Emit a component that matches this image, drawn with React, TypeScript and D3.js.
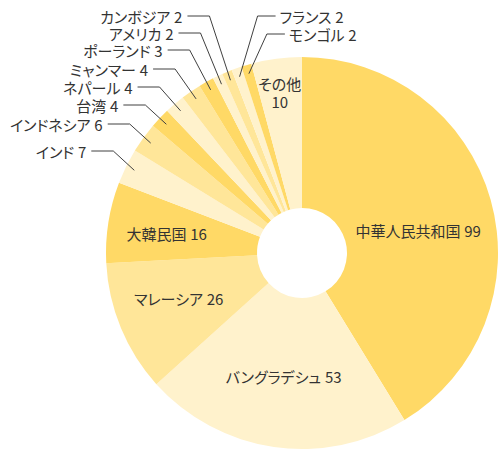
import * as d3 from "d3";

const countries = [
  "中華人民共和国",
  "バングラデシュ",
  "マレーシア",
  "大韓民国",
  "インド",
  "インドネシア",
  "台湾",
  "ネパール",
  "ミャンマー",
  "ポーランド",
  "アメリカ",
  "カンボジア",
  "フランス",
  "モンゴル",
  "その他",
];
const counts = [99, 53, 26, 16, 7, 6, 4, 4, 4, 3, 2, 2, 2, 2, 10];

// slice fill, in slice order
const sliceColors = [
  "#FFD966", "#FFF2CC", "#FFE699", "#FFD966", "#FFF2CC",
  "#FFE699", "#FFD966", "#FFF2CC", "#FFE699", "#FFD966",
  "#FFF2CC", "#FFE699", "#FFF2CC", "#FFD966", "#FFF2CC",
];

// labels drawn inside slices: radius of anchor and nudge
const insideLabels: Record<string, { r: number; dx: number; dy: number }> = {
  中華人民共和国: { r: 128, dx: -7, dy: 12 },
  バングラデシュ: { r: 128, dx: 0, dy: -3 },
  マレーシア: { r: 128, dx: -5, dy: -3 },
  大韓民国: { r: 128, dx: -9, dy: 1 },
  その他: { r: 163, dx: -1, dy: 0 },
};

// labels with leader lines: label row y and side
const outsideLabels: Record<string, { y: number; side: "left" | "right" }> = {
  インド: { y: 151, side: "left" },
  インドネシア: { y: 124, side: "left" },
  台湾: { y: 105, side: "left" },
  ネパール: { y: 87, side: "left" },
  ミャンマー: { y: 69, side: "left" },
  ポーランド: { y: 50, side: "left" },
  アメリカ: { y: 33, side: "left" },
  カンボジア: { y: 16, side: "left" },
  フランス: { y: 16, side: "right" },
  モンゴル: { y: 34, side: "right" },
};

const width = 500;
const height = 450;
const cx = 302;
const cy = 253;
const outerR = 196;
const innerR = 45;
const font = "'Noto Sans CJK JP', 'Noto Sans', sans-serif";
const textColor = "#333333";
const textStyle = { fontFeatureSettings: "'palt' 1" };

type Row = { name: string; value: number; color: string };

export default function App() {
  const data: Row[] = countries.map((c, i) => ({ name: c, value: counts[i], color: sliceColors[i] }));

  const pie = d3
    .pie<Row>()
    .value((d) => d.value)
    .sort(null)
    .startAngle(0)
    .endAngle(2 * Math.PI);
  const arcs = pie(data);

  const arc = d3.arc<d3.PieArcDatum<Row>>().innerRadius(innerR).outerRadius(outerR);

  const pointAt = (angle: number, r: number) => [r * Math.sin(angle), -r * Math.cos(angle)];
  const labelText = (d: Row) => `${d.name}\u2005${d.value}`;

  return (
    <svg
      width={width}
      height={height}
      style={{ position: "absolute", left: 0, top: 0, background: "#fff" }}
    >
      <g transform={`translate(${cx},${cy})`}>
        {arcs.map((a) => (
          <path key={a.data.name} d={arc(a) || ""} fill={a.data.color} stroke="none" />
        ))}
      </g>

      <g
        transform={`translate(${cx},${cy})`}
        fontFamily={font}
        fontSize={15}
        fill={textColor}
        style={textStyle}
      >
        {arcs.map((a) => {
          const lay = insideLabels[a.data.name];
          if (!lay) return null;
          const mid = (a.startAngle + a.endAngle) / 2;
          const [x, y] = pointAt(mid, lay.r);
          if (a.data.name === "その他") {
            return (
              <g key={a.data.name}>
                <text x={x + lay.dx} y={y + lay.dy - 8} textAnchor="middle" dominantBaseline="central">
                  {a.data.name}
                </text>
                <text x={x + lay.dx} y={y + lay.dy + 10} textAnchor="middle" dominantBaseline="central">
                  {a.data.value}
                </text>
              </g>
            );
          }
          return (
            <text
              key={a.data.name}
              x={x + lay.dx}
              y={y + lay.dy}
              textAnchor="middle"
              dominantBaseline="central"
            >
              {labelText(a.data)}
            </text>
          );
        })}
      </g>

      <g fontFamily={font} fontSize={15} fill={textColor} style={textStyle}>
        {arcs.map((a) => {
          const lay = outsideLabels[a.data.name];
          if (!lay) return null;
          const mid = (a.startAngle + a.endAngle) / 2;
          const [px, py] = pointAt(mid, 187);
          const ex = cx + px;
          const ey = cy + py;
          const left = lay.side === "left";
          const dir = left ? -1 : 1;
          const elbowX = ex + dir * (left ? 21 : 18);
          const endX = elbowX + dir * (left ? 22 : 18);
          const textX = endX + dir * (left ? 5 : 4);
          return (
            <g key={a.data.name}>
              <polyline
                points={`${ex},${ey} ${elbowX},${lay.y} ${endX},${lay.y}`}
                fill="none"
                stroke="#404040"
                strokeWidth={1}
              />
              <text
                x={textX}
                y={lay.y}
                textAnchor={left ? "end" : "start"}
                dominantBaseline="central"
              >
                {labelText(a.data)}
              </text>
            </g>
          );
        })}
      </g>
    </svg>
  );
}
